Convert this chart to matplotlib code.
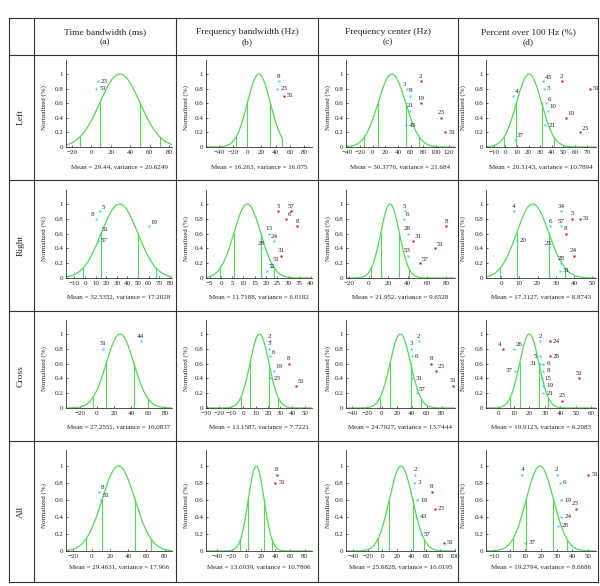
import numpy as np
import matplotlib.pyplot as plt
from matplotlib.lines import Line2D

plt.rcParams['font.family'] = ['Liberation Serif', 'DejaVu Serif']

row_names = ['Left', 'Right', 'Cross', 'All']
col_names = ['Time bandwidth (ms)', 'Frequency bandwidth (Hz)',
             'Frequency center (Hz)', 'Percent over 100 Hz (%)']
col_letters = ['(a)', '(b)', '(c)', '(d)']

means = [[29.44, 16.263, 30.3776, 20.3143],
         [32.5352, 11.7188, 21.952, 17.3127],
         [27.2551, 13.1587, 24.7927, 19.9123],
         [29.4631, 13.6939, 25.6828, 19.2794]]
variances = [[20.6249, 16.075, 21.684, 10.7894],
             [17.2028, 6.0182, 9.6528, 8.8743],
             [16.0837, 7.7221, 13.7444, 6.2083],
             [17.966, 10.7806, 16.0195, 8.6686]]

xlims = [[(-26, 83), (-58, 91), (-42, 130), (-16.7, 78)],
         [(-18, 82), (-6.7, 40.6), (-23.5, 89), (-8.3, 52)],
         [(-36, 88), (-30.5, 56), (-48, 98), (-8, 63)],
         [(-28, 88), (-55, 90), (-50, 100), (-15, 55)]]
xsteps = [[20, 20, 20, 10],
          [10, 5, 20, 10],
          [20, 10, 20, 10],
          [20, 20, 20, 10]]

# (label, x, y, outside 2 sd)
points = [
    [
        [(23, 7, 0.9, 0), (51, 5, 0.8, 0)],
        [(8, 44, 0.9, 0), (23, 42, 0.8, 0), (51, 51, 0.7, 1)],
        [(2, 76, 0.9, 1), (3, 55, 0.8, 0), (8, 59, 0.7, 0), (19, 76, 0.6, 1),
         (21, 59, 0.5, 0), (43, 52, 0.3, 0), (23, 108, 0.4, 1), (51, 115, 0.2, 1)],
        [(43, 32.4, 0.9, 0), (3, 33, 0.8, 0), (6, 35, 0.6, 0), (10, 36.5, 0.5, 0),
         (21, 34.5, 0.3, 0), (4, 6.7, 0.7, 0), (37, 8.5, 0.1, 0), (2, 48.5, 0.9, 1),
         (51, 72.7, 0.8, 1), (19, 52, 0.4, 1), (23, 64.5, 0.2, 1)],
    ],
    [
        [(5, 14.3, 0.9, 0), (8, 10, 0.8, 0), (51, 14.5, 0.6, 0), (57, 12, 0.5, 0),
         (19, 60, 0.7, 0)],
        [(5, 25.5, 0.9, 1), (57, 31.2, 0.9, 1), (6, 29, 0.8, 1), (8, 34, 0.7, 1),
         (13, 21.5, 0.6, 0), (24, 23.8, 0.5, 0), (28, 18, 0.4, 0), (31, 26.7, 0.3, 1),
         (51, 22.5, 0.2, 0), (52, 20.5, 0.1, 0)],
        [(5, 37, 0.9, 0), (6, 36, 0.8, 0), (28, 40, 0.6, 0), (31, 46, 0.5, 1),
         (53, 40, 0.3, 0), (57, 52.7, 0.2, 1), (51, 68, 0.4, 1), (8, 80, 0.7, 1)],
        [(4, 6.8, 0.9, 0), (20, 8.5, 0.5, 0), (34, 33, 0.9, 0), (6, 27, 0.7, 0),
         (57, 32.7, 0.7, 0), (5, 39, 0.8, 1), (51, 43, 0.8, 1), (8, 35.4, 0.6, 1),
         (24, 39.8, 0.3, 1), (23, 26, 0.4, 0), (28, 33, 0.2, 0), (31, 32, 0.1, 0)],
    ],
    [
        [(51, 7.6, 0.8, 0), (44, 51.6, 0.9, 0)],
        [(2, 21.4, 0.9, 0), (3, 21, 0.8, 0), (6, 21.5, 0.7, 0), (19, 25, 0.5, 0),
         (23, 22, 0.4, 0), (8, 37, 0.6, 1), (51, 43, 0.3, 1)],
        [(2, 49.3, 0.9, 0), (3, 39.5, 0.8, 0), (6, 40, 0.7, 0), (31, 41, 0.4, 0),
         (57, 47, 0.2, 0), (8, 66.5, 0.6, 1), (23, 72, 0.5, 1), (51, 95, 0.3, 1)],
        [(4, 3, 0.8, 1), (26, 10, 0.8, 0), (2, 27, 0.9, 0), (24, 33, 0.9, 1),
         (5, 27, 0.7, 0), (28, 33, 0.7, 1), (31, 27, 0.6, 0), (6, 29, 0.6, 0),
         (8, 29, 0.5, 0), (37, 11, 0.5, 0), (15, 28, 0.4, 0), (19, 29, 0.3, 0),
         (21, 29, 0.2, 0), (23, 41, 0.1, 1), (51, 52, 0.4, 1)],
    ],
    [
        [(8, 8, 0.7, 0), (51, 10, 0.6, 0)],
        [(8, 42, 0.9, 1), (51, 40, 0.8, 1)],
        [(2, 45, 0.9, 0), (3, 44, 0.8, 0), (8, 68, 0.7, 1), (19, 48, 0.6, 0),
         (23, 72, 0.5, 1), (43, 47, 0.4, 0), (57, 53, 0.2, 0), (51, 85, 0.1, 1)],
        [(4, 8, 0.9, 0), (2, 30, 0.9, 0), (6, 32, 0.8, 0), (51, 50, 0.9, 1),
         (19, 33, 0.6, 0), (24, 33, 0.4, 0), (28, 31, 0.3, 0), (23, 42, 0.5, 1),
         (37, 10, 0.1, 0)],
    ],
]

# where each point label sits
place = [
    [['r', 'r'],
     ['a', 'r', 'r'],
     ['a', 'al', 'a', 'a', 'a', 'r', 'a', 'r'],
     ['ar', 'r', 'ar', 'ar', 'r', 'ar', 'ar', 'a', 'r', 'ar', 'ar']],
    [['ar', 'al', 'ar', 'r', 'ar'],
     ['a', 'a', 'ar', 'a', 'a', 'a', 'a', 'a', 'ar', 'ar'],
     ['a', 'ar', 'a', 'ar', 'a', 'ar', 'ar', 'a'],
     ['a', 'r', 'a', 'a', 'a', 'a', 'r', 'a', 'a', 'a', 'a', 'r']],
    [['a', 'a'],
     ['a', 'a', 'ar', 'ar', 'r', 'a', 'ar'],
     ['a', 'a', 'r', 'r', 'ar', 'a', 'ar', 'a'],
     ['al', 'ar', 'a', 'r', 'l', 'r', 'l', 'r', 'r', 'l', 'r', 'r', 'r', 'a', 'a']],
    [['ar', 'ar'],
     ['a', 'r'],
     ['a', 'r', 'a', 'r', 'r', 'r', 'r', 'r'],
     ['a', 'a', 'r', 'r', 'r', 'r', 'r', 'a', 'r']],
]
offsets = {'r': (2.2, 0, 'left', 'center'), 'l': (-2.2, 0, 'right', 'center'),
           'a': (0, 1.8, 'center', 'bottom'), 'ar': (1.2, 1.2, 'left', 'bottom'),
           'al': (-1.2, 1.2, 'right', 'bottom')}

W, H = 600.0, 586.0
green = '#55d855'
cyan = '#3fcfe3'
red = '#c81010'

fig = plt.figure(figsize=(6, 5.86), dpi=100)

# table grid (pixels)
vx = [9, 34, 176, 318, 458, 598]
hy = [18, 55, 180, 311, 441, 582]
for x in vx:
    fig.add_artist(Line2D([x / W, x / W], [1 - hy[0] / H, 1 - hy[-1] / H],
                          color='#333333', lw=0.8))
for y in hy:
    fig.add_artist(Line2D([vx[0] / W, vx[-1] / W], [1 - y / H, 1 - y / H],
                          color='#333333', lw=0.8))

for j in range(4):
    cx = (vx[j + 1] + vx[j + 2]) / 2 / W
    fig.text(cx, 1 - 37 / H, col_names[j] + '\n' + col_letters[j], ha='center',
             va='center', fontsize=6.8, linespacing=1.35, color='#222222')
for i in range(4):
    cy = (hy[i + 1] + hy[i + 2]) / 2
    fig.text(21 / W, 1 - cy / H, row_names[i], rotation=90, ha='center',
             va='center', fontsize=6.8, color='#222222')

ax_x = [(66, 172), (206, 312), (346, 455), (486, 596)]
ax_bottom = [147, 278, 408, 551]
units = [73.0, 74.0, 74.0, 85.0]
ytop = 1.19
ylab_x = [-0.18, -0.16, -0.14, -0.18]
mean_y = [167, 297, 427, 567]

for i in range(4):
    for j in range(4):
        x0, x1 = ax_x[j]
        b = ax_bottom[i]
        h = units[i] * ytop
        ax = fig.add_axes([x0 / W, 1 - b / H, (x1 - x0) / W, h / H])
        m = means[i][j]
        s = variances[i][j]
        lo, hi = xlims[i][j]
        xs = np.linspace(lo, hi, 400)
        if i == 0 and j == 1:
            xs = np.linspace(lo, m + 2 * s, 400)
        ax.plot(xs, np.exp(-(xs - m) ** 2 / (2 * s ** 2)), color=green, lw=0.9)
        for k in [-2, -1, 1, 2]:
            xv = m + k * s
            if lo < xv < hi:
                ax.plot([xv, xv], [0, np.exp(-k * k / 2.0)], color=green, lw=0.8)
        for (lab, px, py, out), pl in zip(points[i][j], place[i][j]):
            ax.plot(px, py, 's', ms=1.8, mec='none', color=red if out else cyan)
            dx, dy, ha, va = offsets[pl]
            ax.annotate(str(lab), (px, py), xytext=(dx, dy),
                        textcoords='offset points', ha=ha, va=va, fontsize=5,
                        color='#222222', annotation_clip=False)
        step = xsteps[i][j]
        ticks = np.arange(np.ceil(lo / step) * step, hi + 1e-6, step)
        ax.set_xticks(ticks)
        ax.set_xticklabels([str(int(t)).replace('-', '\u2212') for t in ticks])
        ax.set_yticks([0, 0.2, 0.4, 0.6, 0.8, 1])
        ax.set_yticklabels(['0', '0.2', '0.4', '0.6', '0.8', '1'])
        ax.set_xlim(lo, hi)
        ax.set_ylim(0, ytop)
        for sp in ['top', 'right']:
            ax.spines[sp].set_visible(False)
        for sp in ['left', 'bottom']:
            ax.spines[sp].set_linewidth(0.6)
            ax.spines[sp].set_color('#333333')
        ax.tick_params(labelsize=5, length=1.5, width=0.5, direction='in',
                       pad=2, colors='#222222')
        ax.set_ylabel('Normalized (%)', fontsize=5, color='#222222')
        ax.yaxis.set_label_coords(ylab_x[j], 0.45)
        ax.patch.set_alpha(0)
        fig.text((x0 + x1) / 2 / W, 1 - mean_y[i] / H,
                 'Mean = %s, variance = %s' % (m, s), ha='center', va='center',
                 fontsize=5, color='#222222')

fig.savefig('out.png', dpi=100)
